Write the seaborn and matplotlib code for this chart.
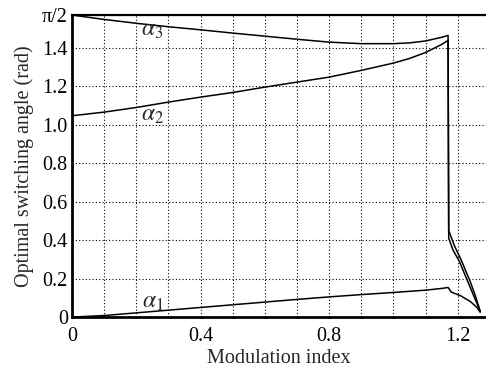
import numpy as np
import pandas as pd
import seaborn as sns
import matplotlib.pyplot as plt

# modulation index samples (common part, before the jump)
m_main = [0, 0.1, 0.2, 0.3, 0.4, 0.5, 0.6, 0.7, 0.8, 0.9, 1.0, 1.05, 1.1, 1.15, 1.17]
a1_main = [0, 0.008, 0.022, 0.036, 0.05, 0.064, 0.078, 0.092, 0.105, 0.117, 0.128, 0.134, 0.14, 0.149, 0.154]
a2_main = [1.047, 1.066, 1.090, 1.118, 1.144, 1.168, 1.196, 1.222, 1.248, 1.283, 1.321, 1.345, 1.376, 1.418, 1.439]
a3_main = [1.5708, 1.548, 1.528, 1.510, 1.494, 1.477, 1.461, 1.445, 1.430, 1.422, 1.422, 1.426, 1.436, 1.455, 1.465]

# tails after the jump
m1_tail = [1.18, 1.21, 1.24, 1.26, 1.27]
a1_tail = [0.13, 0.11, 0.08, 0.05, 0.025]
m2_tail = [1.172, 1.185, 1.205, 1.22, 1.235, 1.25, 1.27]
a2_tail = [0.41, 0.35, 0.29, 0.23, 0.17, 0.11, 0.03]
m3_tail = [1.172, 1.19, 1.21, 1.225, 1.24, 1.255, 1.27]
a3_tail = [0.45, 0.37, 0.30, 0.24, 0.18, 0.11, 0.03]

yticks = [0, 0.2, 0.4, 0.6, 0.8, 1.0, 1.2, 1.4, np.pi / 2]
ytick_labels = ['0', '0.2', '0.4', '0.6', '0.8', '1.0', '1.2', '1.4', 'π/2']
xticks = [round(0.1 * i, 1) for i in range(13)]
xtick_labels = ['0', '', '', '', '0.4', '', '', '', '0.8', '', '', '', '1.2']

sns.set_style('white')
plt.rcParams['font.family'] = ['Liberation Serif', 'DejaVu Serif']
plt.rcParams['mathtext.fontset'] = 'stix'

fig = plt.figure(figsize=(4.86, 3.67), dpi=100)
ax = fig.add_axes([0.148, 0.136, 0.852, 0.823])

for mm, aa in [(m_main + m1_tail, a1_main + a1_tail),
               (m_main + m2_tail, a2_main + a2_tail),
               (m_main + m3_tail, a3_main + a3_tail)]:
    df = pd.DataFrame({'m': mm, 'a': aa})
    sns.lineplot(data=df, x='m', y='a', sort=False, estimator=None,
                 color='black', linewidth=1.1, ax=ax)

ax.set_xlim(0, 1.288)
ax.set_ylim(0, np.pi / 2)
ax.set_xticks(xticks)
ax.set_xticklabels(xtick_labels)
ax.set_yticks(yticks)
ax.set_yticklabels(ytick_labels)
ax.grid(True, linestyle=(0, (1, 2)), color='black', linewidth=0.8)
ax.tick_params(direction='in', length=4, width=1, labelsize=14.5, colors='black',
               top=False, right=False, pad=3)
ax.tick_params(axis='x', pad=7)

for side in ['left', 'bottom']:
    ax.spines[side].set_linewidth(2)
ax.spines['top'].set_linewidth(1.6)
ax.spines['right'].set_visible(False)
for s in ax.spines.values():
    s.set_color('black')

ax.text(0.25, 1.49, r'$\alpha_3$', fontsize=17, ha='center', va='center')
ax.text(0.25, 1.05, r'$\alpha_2$', fontsize=17, ha='center', va='center')
ax.text(0.25, 0.075, r'$\alpha_1$', fontsize=17, ha='center', va='center')

ax.set_xlabel('Modulation index', fontsize=14.5, labelpad=2)
ax.set_ylabel('Optimal switching angle (rad)', fontsize=14.5, labelpad=6)

fig.savefig('out.png', dpi=100)
